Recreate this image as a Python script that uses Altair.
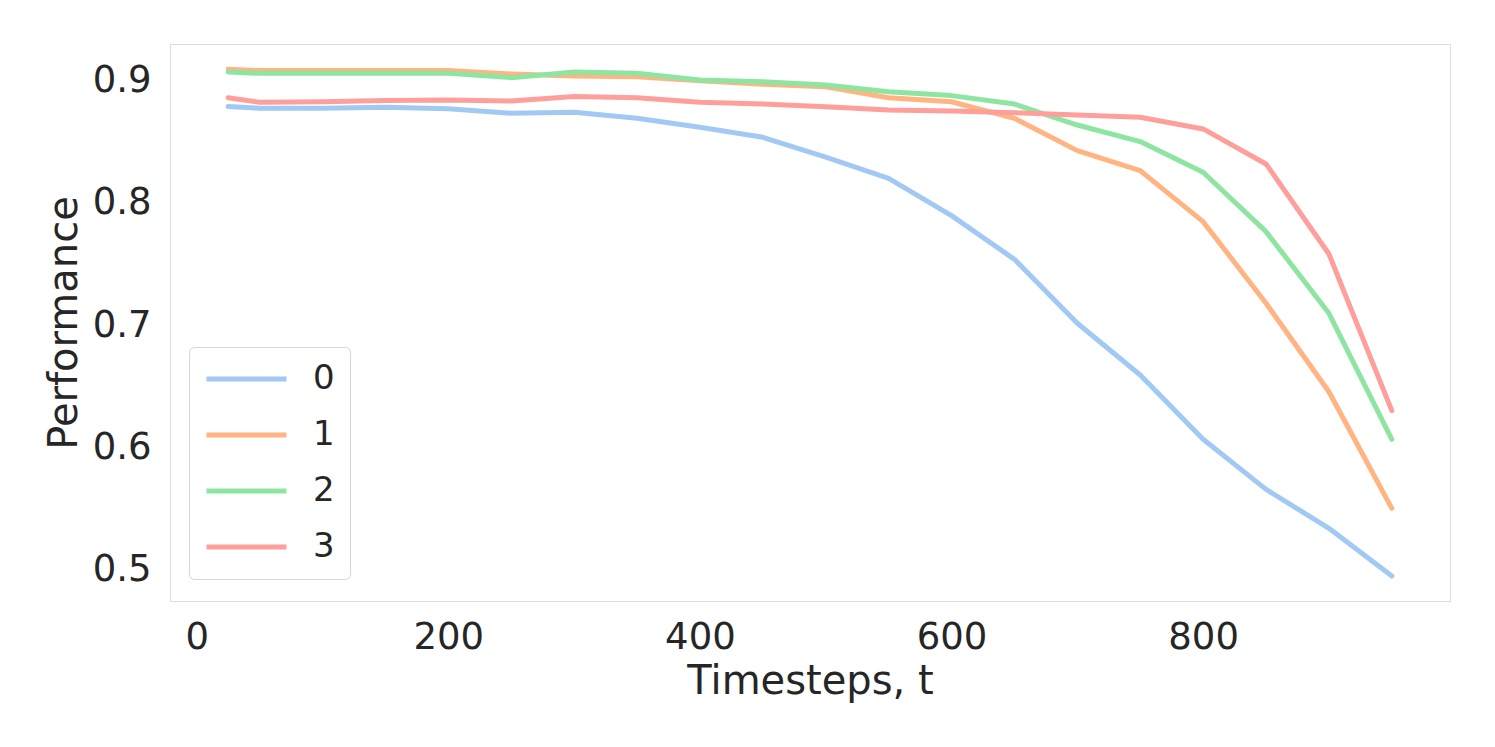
import altair as alt
import pandas as pd

# x positions (timesteps)
timesteps = [25, 50, 100, 150, 200, 250, 300, 350, 400, 450, 500, 550, 600,
             650, 700, 750, 800, 850, 900, 950]

series_names = ["0", "1", "2", "3"]

perf_0 = [0.8790, 0.8776, 0.8776, 0.8784, 0.8773, 0.8735, 0.8743, 0.8694, 0.8620,
          0.8538, 0.8375, 0.8202, 0.7896, 0.7538, 0.7014, 0.6590, 0.6063, 0.5653,
          0.5334, 0.4943]
perf_1 = [0.9096, 0.9085, 0.9085, 0.9085, 0.9085, 0.9057, 0.9040, 0.9035, 0.9002,
          0.8973, 0.8953, 0.8863, 0.8830, 0.8694, 0.8429, 0.8265, 0.7847, 0.7178,
          0.6453, 0.5497]
perf_2 = [0.9074, 0.9063, 0.9063, 0.9063, 0.9063, 0.9027, 0.9074, 0.9063, 0.9008,
          0.8994, 0.8967, 0.8912, 0.8880, 0.8811, 0.8639, 0.8503, 0.8252, 0.7765,
          0.7096, 0.6063]
perf_3 = [0.8863, 0.8825, 0.8830, 0.8839, 0.8844, 0.8836, 0.8872, 0.8863, 0.8825,
          0.8811, 0.8789, 0.8762, 0.8754, 0.8740, 0.8721, 0.8702, 0.8607, 0.8320,
          0.7582, 0.6298]

colors = ["#a1c9f4", "#ffb482", "#8de5a1", "#ff9f9b"]
x_ticks = [0, 200, 400, 600, 800]
y_ticks = [0.5, 0.6, 0.7, 0.8, 0.9]

rows = []
for name, vals in zip(series_names, [perf_0, perf_1, perf_2, perf_3]):
    for t, v in zip(timesteps, vals):
        rows.append({"t": t, "perf": v, "series": name})
df = pd.DataFrame(rows)

FONT = "DejaVu Sans"
TXT = "#262626"

chart = alt.Chart(df).mark_line(
    strokeWidth=5, strokeCap="round", strokeJoin="round"
).encode(
    x=alt.X("t:Q",
            scale=alt.Scale(domain=[-21.25, 996.25], nice=False, zero=False),
            axis=alt.Axis(title="Timesteps, t", values=x_ticks, format="d",
                          grid=False, ticks=False, tickSize=0, domain=False,
                          labelFontSize=37, titleFontSize=40, labelPadding=18,
                          titlePadding=6, labelColor=TXT, titleColor=TXT,
                          labelFont=FONT, titleFont=FONT, titleFontWeight="normal")),
    y=alt.Y("perf:Q",
            scale=alt.Scale(domain=[0.4738, 0.9303], nice=False, zero=False),
            axis=alt.Axis(title="Performance", values=y_ticks, format=".1f",
                          grid=False, ticks=False, tickSize=0, domain=False,
                          labelFontSize=37, titleFontSize=40, labelPadding=19,
                          titlePadding=8, labelColor=TXT, titleColor=TXT,
                          labelFont=FONT, titleFont=FONT, titleFontWeight="normal")),
    color=alt.Color("series:N",
                    scale=alt.Scale(domain=series_names, range=colors),
                    legend=alt.Legend(title=None, orient="none", legendX=19, legendY=303,
                                      symbolType="stroke", symbolSize=6400,
                                      symbolStrokeWidth=5, labelFontSize=34,
                                      labelFont=FONT, labelColor=TXT, labelOffset=24,
                                      clipHeight=34, rowPadding=22, padding=15,
                                      cornerRadius=5,
                                      fillColor="white", strokeColor="#d6d6d6"))
).properties(
    width=1280, height=557,
    autosize=alt.AutoSizeParams(type="none"),
    padding={"left": 162, "top": 36, "right": 37, "bottom": 130},
).configure_view(
    stroke="#cccccc", strokeWidth=2
).configure(background="white")

chart.save("out.html", embed_options={"renderer": "svg", "actions": False})
